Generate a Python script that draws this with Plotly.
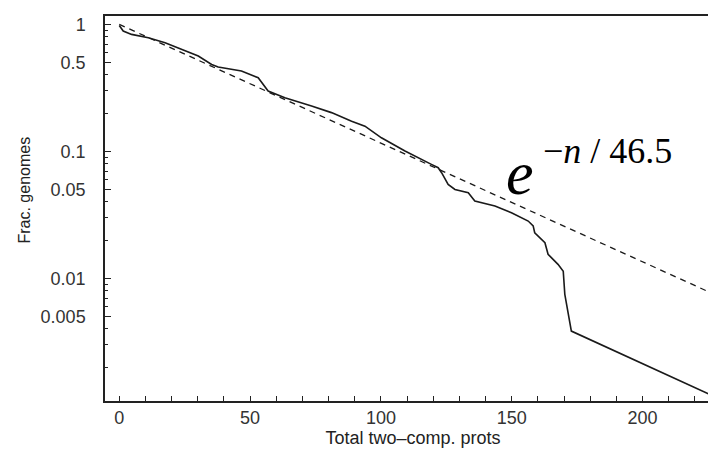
import plotly.graph_objects as go

# Empirical curve: fraction of genomes vs total two-component proteins
n_obs = [0, 1.5, 4.7, 11.1, 17.5, 23.8, 30.2, 35.3, 37.8, 46.7, 53.1, 56.9, 63.3, 73.5,
         81.1, 88.8, 93.9, 100.2, 109.2, 119.3, 121.9, 123.2, 125.7, 128.3, 133.4, 135.9,
         143.6, 149.9, 156.3, 158.2, 158.8, 162.7, 163.9, 167.7, 169.7, 170.3, 172.2,
         172.8, 226.9]
frac_obs = [0.98, 0.887, 0.834, 0.785, 0.718, 0.636, 0.564, 0.484, 0.462, 0.430, 0.380,
            0.299, 0.265, 0.228, 0.202, 0.173, 0.158, 0.128, 0.1007, 0.079, 0.0744, 0.068,
            0.055, 0.0502, 0.0473, 0.0407, 0.0372, 0.0329, 0.0283, 0.0259, 0.0229, 0.0191,
            0.0155, 0.0129, 0.0114, 0.0075, 0.00462, 0.00385, 0.00119]

# Exponential fit e^(-n/46.5), straight on the log axis: endpoints
n_fit = [0, 228]
frac_fit = [1.0, 0.0074]

y_tickvals = [1, 0.5, 0.1, 0.05, 0.01, 0.005]
y_ticktext = ["1", "0.5", "0.1", "0.05", "0.01", "0.005"]
x_tickvals = [0, 50, 100, 150, 200]

y_range = [-2.965, 0.066]
x_range = [-5.46, 230.0]

fig = go.Figure()
fig.add_trace(go.Scatter(x=n_obs, y=frac_obs, mode="lines",
                         line=dict(color="#1a1a1a", width=1.6), showlegend=False))
fig.add_trace(go.Scatter(x=n_fit, y=frac_fit, mode="lines", yaxis="y2",
                         line=dict(color="#1a1a1a", width=1.3, dash="6px,5px"),
                         showlegend=False))

tick_font = dict(family="Liberation Sans, Arial, sans-serif", size=18, color="#333333")

fig.update_layout(
    width=716, height=449,
    margin=dict(l=97, r=3, t=8, b=56),
    paper_bgcolor="white", plot_bgcolor="white",
    xaxis=dict(
        range=x_range, tickvals=x_tickvals, ticks="inside", ticklen=5, tickwidth=1.3,
        tickcolor="#222", showline=True, linecolor="#222", linewidth=1.5, mirror=True,
        showgrid=False, zeroline=False, tickfont=tick_font, ticklabelstandoff=0,
        minor=dict(dtick=10, ticks="inside", ticklen=5, tickwidth=1.3, tickcolor="#222",
                   showgrid=False),
        title=dict(text="Total two\u2013comp. prots",
                   font=dict(family="Liberation Sans, Arial, sans-serif", size=18,
                             color="#222"), standoff=0),
    ),
    yaxis=dict(
        type="log", range=y_range, tickvals=y_tickvals, ticktext=y_ticktext,
        ticks="inside", ticklen=6, tickwidth=1.3, tickcolor="#222",
        showline=True, linecolor="#222", linewidth=1.5, mirror=False,
        showgrid=False, zeroline=False, tickfont=tick_font, ticklabelstandoff=14,
        minor=dict(dtick="D1", ticks="inside", ticklen=3, tickwidth=1, tickcolor="#222",
                   showgrid=False),
    ),
    yaxis2=dict(
        type="log", range=y_range, overlaying="y", side="right", anchor="x",
        tickvals=y_tickvals, showticklabels=False, ticks="inside", ticklen=6,
        tickwidth=1.3, tickcolor="#444", showline=False, showgrid=False, zeroline=False,
        minor=dict(dtick="D1", ticks="inside", ticklen=3, tickwidth=1, tickcolor="#666",
                   showgrid=False),
    ),
    shapes=[dict(type="line", xref="paper", yref="paper", x0=1, x1=1, y0=0, y1=1,
                 line=dict(color="#999999", width=1, dash="dot"))],
    annotations=[
        dict(x=-0.130, y=0.549, xref="paper", yref="paper", text="Frac. genomes",
             textangle=-90, showarrow=False, xanchor="center", yanchor="middle",
             font=dict(family="Liberation Sans, Arial, sans-serif", size=16,
                       color="#222")),
        dict(x=153.0, y=-1.17, xref="x", yref="y", text="<i>e</i>", showarrow=False,
             xanchor="center", yanchor="middle",
             font=dict(family="Liberation Serif, Times New Roman, serif", size=62,
                       color="black")),
        dict(x=161.3, y=-1.0, xref="x", yref="y", text="\u2212<i>n</i> / 46.5",
             showarrow=False, xanchor="left", yanchor="middle",
             font=dict(family="Liberation Serif, Times New Roman, serif", size=36,
                       color="black")),
    ],
)

fig.write_html("out.html")
